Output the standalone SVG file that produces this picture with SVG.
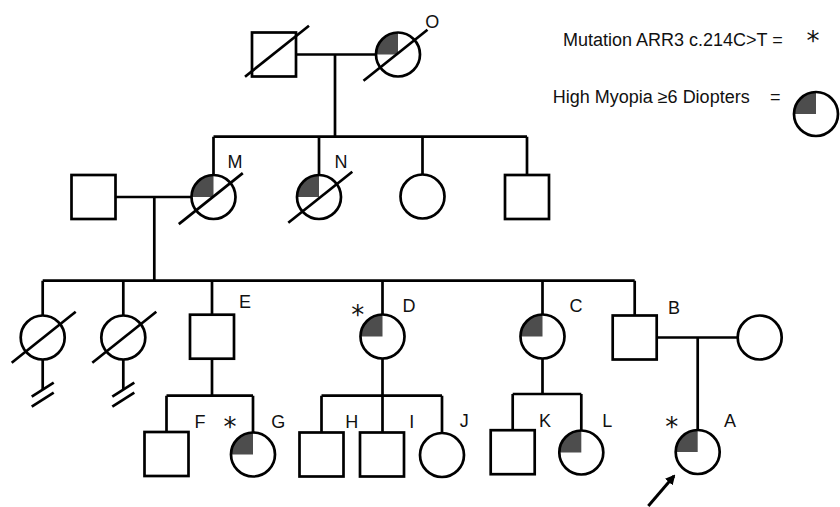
<svg xmlns="http://www.w3.org/2000/svg" xmlns:xlink="http://www.w3.org/1999/xlink" width="840" height="507" viewBox="0 0 840 507">
<style>
.ln{stroke:#000;stroke-width:2.7;fill:none;stroke-linecap:butt}
.sym{fill:#fff;stroke:#000;stroke-width:2.7}
.out{fill:none;stroke:#000;stroke-width:2.7}
.q{fill:#4d4d4d}
.lbl{font-family:"Liberation Sans",Arial,sans-serif;font-size:18px;text-anchor:middle;fill:#111}
.leg{font-family:"Liberation Sans",Arial,sans-serif;font-size:18px;fill:#111}
.ast{font-family:"DejaVu Sans",sans-serif;font-size:26px;text-anchor:middle;fill:#111}
</style>
<defs>
<g id="aff"><circle r="22" fill="#fff"/><path class="q" d="M0,0 H-22 A22,22 0 0 1 0,-22 Z"/><circle r="22" class="out"/></g>
<g id="unF"><circle r="22" class="sym"/></g>
<g id="unM"><rect x="-22" y="-22" width="44" height="44" class="sym"/></g>
<line id="dec" x1="-32" y1="25.5" x2="32" y2="-25.5" class="ln"/>
<g id="hash"><line x1="-11" y1="7" x2="11" y2="-7" class="ln"/><line x1="-11" y1="17" x2="11" y2="3" class="ln"/></g>
<marker id="ah" markerWidth="10" markerHeight="10" refX="8" refY="5" orient="auto" markerUnits="userSpaceOnUse" viewBox="0 0 10 10"><path d="M0,0 L10,5 L0,10 Z" fill="#000"/></marker>
</defs>
<rect width="840" height="507" fill="#fff"/>

<g id="connectors">
<path class="ln" d="M296,54.5 H376 M335,54.5 V136.7"/>
<path class="ln" d="M213.5,136.7 H527 M213.5,136.7 V175 M319,136.7 V175 M422.5,136.7 V174.5 M527,136.7 V175"/>
<path class="ln" d="M115.5,197 H191.5 M154.3,197 V280.7"/>
<path class="ln" d="M42.7,280.7 H634.7 M42.7,280.7 V315.5 M123.3,280.7 V315.5 M212,280.7 V314.7 M382.5,280.7 V314.5 M542.5,280.7 V314.5 M634.7,280.7 V315.5"/>
<path class="ln" d="M42.7,359.5 V390 M123.3,359.5 V390"/>
<path class="ln" d="M212,358.7 V395.7 M166.5,395.7 H253 M166.5,395.7 V432 M253,395.7 V432.5"/>
<path class="ln" d="M382.5,358.5 V395.7 M321.5,395.7 H442 M321.5,395.7 V432.5 M382.5,395.7 V432.5 M442,395.7 V433"/>
<path class="ln" d="M542.5,358.5 V394 M512.7,394 H581.3 M512.7,394 V430.2 M581.3,394 V430.5"/>
<path class="ln" d="M656.7,337.5 H737.7 M697.7,337.5 V430"/>
<line x1="648.3" y1="506" x2="674" y2="476" stroke="#000" stroke-width="3" marker-end="url(#ah)"/>
</g>

<g id="legend">
<text class="leg" x="563" y="46">Mutation ARR3 c.214C&gt;T =</text>
<text class="ast" x="813" y="50">*</text>
<text class="leg" x="552.7" y="102.7">High Myopia ≥6 Diopters</text>
<text class="leg" x="770" y="102.7">=</text>
<use xlink:href="#aff" x="816" y="114"/>
</g>

<g id="I-1"><use xlink:href="#unM" x="274" y="54.5"/><use xlink:href="#dec" x="277" y="51.2"/></g>
<g id="O"><use xlink:href="#aff" x="398" y="54.5"/><use xlink:href="#dec" x="395.5" y="55.3"/><text class="lbl" x="432.3" y="28">O</text></g>

<g id="II-spouse"><use xlink:href="#unM" x="93.5" y="197"/></g>
<g id="M"><use xlink:href="#aff" x="213.5" y="197"/><use xlink:href="#dec" x="210.8" y="198.6"/><text class="lbl" x="235" y="168">M</text></g>
<g id="N"><use xlink:href="#aff" x="319" y="197"/><use xlink:href="#dec" x="320.3" y="197.2"/><text class="lbl" x="341" y="168">N</text></g>
<g id="II-3"><use xlink:href="#unF" x="422.5" y="196.5"/></g>
<g id="II-4"><use xlink:href="#unM" x="527" y="197"/></g>

<g id="III-1"><use xlink:href="#unF" x="42.7" y="337.5"/><use xlink:href="#dec" x="43.7" y="337.2"/><use xlink:href="#hash" x="42.7" y="389.7"/></g>
<g id="III-2"><use xlink:href="#unF" x="123.3" y="337.5"/><use xlink:href="#dec" x="124.3" y="337.2"/><use xlink:href="#hash" x="123.3" y="389.7"/></g>
<g id="E"><use xlink:href="#unM" x="212" y="336.7"/><text class="lbl" x="245" y="307.7">E</text></g>
<g id="D"><use xlink:href="#aff" x="382.5" y="336.5"/><text class="ast" x="357.7" y="324">*</text><text class="lbl" x="409" y="311.7">D</text></g>
<g id="C"><use xlink:href="#aff" x="542.5" y="336.5"/><text class="lbl" x="576" y="311.7">C</text></g>
<g id="B"><use xlink:href="#unM" x="634.7" y="337.5"/><text class="lbl" x="674" y="314">B</text></g>
<g id="B-spouse"><use xlink:href="#unF" x="759.7" y="337.5"/></g>

<g id="F"><use xlink:href="#unM" x="166.5" y="454"/><text class="lbl" x="200" y="428">F</text></g>
<g id="G"><use xlink:href="#aff" x="253" y="454.5"/><text class="ast" x="230" y="435.5">*</text><text class="lbl" x="278.3" y="428">G</text></g>
<g id="H"><use xlink:href="#unM" x="321.5" y="454.5"/><text class="lbl" x="351.7" y="428">H</text></g>
<g id="I"><use xlink:href="#unM" x="382" y="454.5"/><text class="lbl" x="411.7" y="428">I</text></g>
<g id="J"><use xlink:href="#unF" x="442" y="455"/><text class="lbl" x="464.3" y="427">J</text></g>
<g id="K"><use xlink:href="#unM" x="512.7" y="452.2"/><text class="lbl" x="545" y="427">K</text></g>
<g id="L"><use xlink:href="#aff" x="581.3" y="452.5"/><text class="lbl" x="607.3" y="427">L</text></g>
<g id="A"><use xlink:href="#aff" x="697.7" y="452"/><text class="ast" x="671.7" y="435.8">*</text><text class="lbl" x="730" y="427">A</text></g>
</svg>
